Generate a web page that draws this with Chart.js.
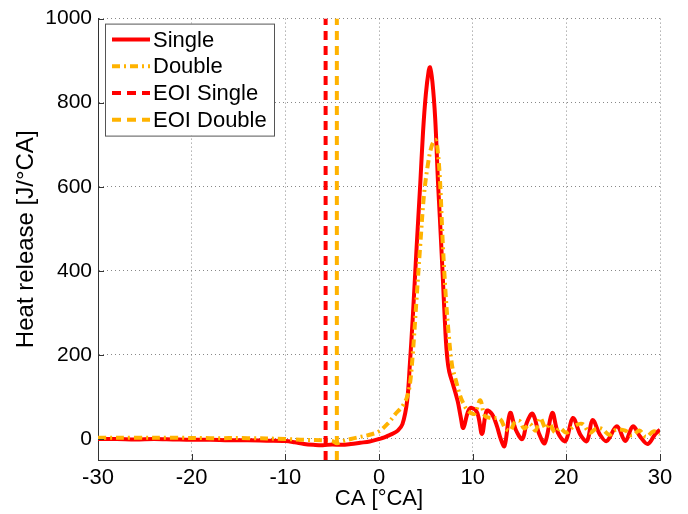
<!DOCTYPE html>
<html>
<head>
<meta charset="utf-8">
<script src="https://cdn.jsdelivr.net/npm/chart.js@4.4.1/dist/chart.umd.min.js"></script>
<style>
  html, body { margin: 0; padding: 0; background: #fff; }
  #wrap { width: 688px; height: 514px; }
</style>
</head>
<body>
<div id="wrap"><canvas id="heatChart" width="688" height="514"></canvas></div>
<script>
// data
const singleCA = [-30, -28, -26, -24, -22, -20, -18, -16, -14, -12, -10, -9, -8, -7, -6, -5, -4, -3, -2, -1,
  0, 0.5, 1, 1.5, 2, 2.5, 3, 3.3, 3.6, 4.0, 4.4, 4.7, 5.0, 5.3, 5.45, 5.7, 6.0, 6.3, 6.5, 6.8, 7.1, 7.3, 7.5,
  7.9, 8.4, 8.7, 9.0, 9.5, 9.9, 10.5, 11.0, 11.5, 12.1, 12.6, 13.0, 13.4, 14.0, 14.6, 15.3, 15.8, 16.4, 17.1,
  17.7, 18.5, 19.1, 19.9, 20.7, 21.5, 22.2, 22.8, 23.6, 24.3, 25.4, 26.3, 27.1, 27.9, 28.7, 29.5, 30];
const singleHR = [0, 0, -1, 0, -1, -2, -2, -3, -3, -4, -5, -8, -12, -14, -15, -13, -14, -12, -9, -6,
  0, 3, 8, 13, 20, 35, 90, 180, 287, 450, 605, 730, 820, 875, 884, 850, 762, 610, 525, 390, 250, 190, 160,
  130, 90, 55, 26, 65, 74, 62, 12, 67, 58, 30, 0, -17, 62, 22, 0, 40, 60, 12,
  -10, 62, 15, -5, 50, 10, -5, 45, 10, -5, 30, -5, 30, 5, -12, 12, 22];

const doubleCA = [-30, -26, -22, -18, -14, -10, -8, -6, -5, -4.5, -4, -3, -2, -1, 0, 1, 1.7, 2.5, 3.0, 3.3,
  3.6, 4.0, 4.4, 4.8, 5.2, 5.6, 6.0, 6.2, 6.5, 6.8, 7.1, 7.4, 7.8, 8.2, 8.6, 9.0, 9.5, 10.2, 10.8, 11.3,
  12.0, 12.9, 13.5, 14.0, 14.5, 15.0, 15.5, 16.1, 16.7, 17.2, 17.8, 18.2, 18.8, 19.3, 20.0, 20.8, 21.7,
  22.5, 23.2, 23.8, 24.6, 25.3, 26.3, 27.0, 27.8, 28.5, 29.3, 30];
const doubleHR = [3, 3, 3, 2, 2, 0, -2, -3, -5, -10, -6, 0, 5, 10, 18, 38, 58, 78, 100, 130,
  200, 330, 460, 580, 650, 695, 712, 700, 620, 470, 350, 260, 175, 140, 107, 85, 67, 60, 92, 55,
  50, 48, 25, 20, 40, 43, 25, 36, 20, 50, 25, 36, 15, 26, 15, 30, 36,
  15, 25, 24, 10, 22, 20, 8, 20, 5, 18, 12];

const eoiSingle = -5.7;
const eoiDouble = -4.5;

const xTicks = [-30, -20, -10, 0, 10, 20, 30];
const yTicks = [0, 200, 400, 600, 800, 1000];
const yMin = -50;
const yMax = 1000;

const RED = "#ff0000";
const ORANGE = "#ffb300";
const FONT = "'Liberation Sans', Arial, sans-serif";

function toPoints(xs, ys) {
  return xs.map((x, i) => ({ x: x, y: ys[i] }));
}

// legend box drawn inside the plot, like the original
const legendItems = [
  { label: "Single", color: RED, dash: [] },
  { label: "Double", color: ORANGE, dash: [8, 4, 2, 4] },
  { label: "EOI Single", color: RED, dash: [9, 6] },
  { label: "EOI Double", color: ORANGE, dash: [9, 6] }
];

const insideLegend = {
  id: "insideLegend",
  afterDraw(chart) {
    const ctx = chart.ctx;
    const area = chart.chartArea;
    const bx = area.left + 7, by = area.top + 5, bw = 169, bh = 112;
    ctx.save();
    ctx.fillStyle = "#fff";
    ctx.fillRect(bx, by, bw, bh);
    ctx.strokeStyle = "#555";
    ctx.lineWidth = 1;
    ctx.strokeRect(bx + 0.5, by + 0.5, bw, bh);
    ctx.font = "22px " + FONT;
    ctx.textBaseline = "middle";
    legendItems.forEach((item, i) => {
      const cy = by + 16 + i * 26.7;
      ctx.beginPath();
      ctx.setLineDash(item.dash);
      ctx.strokeStyle = item.color;
      ctx.lineWidth = 4;
      ctx.moveTo(bx + 7, cy);
      ctx.lineTo(bx + 45, cy);
      ctx.stroke();
      ctx.setLineDash([]);
      ctx.fillStyle = "#000";
      ctx.fillText(item.label, bx + 48, cy + 1);
    });
    ctx.restore();
  }
};

// small inward tick marks on the left and bottom axes
const innerTicks = {
  id: "innerTicks",
  afterDatasetsDraw(chart) {
    const ctx = chart.ctx;
    const xs = chart.scales.x, ys = chart.scales.y;
    const area = chart.chartArea;
    ctx.save();
    ctx.strokeStyle = "#333";
    ctx.lineWidth = 1;
    ctx.beginPath();
    xTicks.forEach(v => {
      const px = Math.round(xs.getPixelForValue(v)) + 0.5;
      ctx.moveTo(px, area.bottom);
      ctx.lineTo(px, area.bottom - 6);
    });
    yTicks.forEach(v => {
      const py = Math.round(ys.getPixelForValue(v)) + 0.5;
      ctx.moveTo(area.left, py);
      ctx.lineTo(area.left + 6, py);
    });
    ctx.stroke();
    ctx.restore();
  }
};

let heatChart;

function setupChart() {
  const ctx = document.getElementById("heatChart").getContext("2d");
  heatChart = new Chart(ctx, {
    type: "line",
    data: {
      datasets: [
        {
          label: "Single",
          data: toPoints(singleCA, singleHR),
          borderColor: RED,
          borderWidth: 4,
          tension: 0.35,
          pointRadius: 0,
          order: 4
        },
        {
          label: "Double",
          data: toPoints(doubleCA, doubleHR),
          borderColor: ORANGE,
          borderWidth: 4,
          borderDash: [8, 4, 2, 4],
          tension: 0.35,
          pointRadius: 0,
          order: 3
        },
        {
          label: "EOI Single",
          data: toPoints([eoiSingle, eoiSingle], [yMin, yMax]),
          borderColor: RED,
          borderWidth: 4,
          borderDash: [9, 6],
          pointRadius: 0,
          order: 2
        },
        {
          label: "EOI Double",
          data: toPoints([eoiDouble, eoiDouble], [yMin, yMax]),
          borderColor: ORANGE,
          borderWidth: 4,
          borderDash: [9, 6],
          pointRadius: 0,
          order: 1
        }
      ]
    },
    options: {
      responsive: false,
      animation: false,
      layout: { padding: { left: 12, top: 17, right: 28, bottom: 2 } },
      plugins: {
        legend: { display: false },
        tooltip: { enabled: false }
      },
      scales: {
        x: {
          type: "linear",
          min: -30,
          max: 30,
          afterBuildTicks: s => { s.ticks = xTicks.map(v => ({ value: v })); },
          afterFit: s => { s.height = 52; },
          grid: { color: "#888", drawTicks: false },
          border: { display: true, color: "#333", width: 1, dash: [1, 3] },
          ticks: {
            color: "#000",
            padding: 5,
            callback: v => String(v),
            font: { family: FONT, size: 22 }
          },
          title: {
            display: true,
            text: "CA [°CA]",
            color: "#000",
            padding: 0,
            font: { family: FONT, size: 22 }
          }
        },
        y: {
          type: "linear",
          min: yMin,
          max: yMax,
          afterBuildTicks: s => { s.ticks = yTicks.map(v => ({ value: v })); },
          afterFit: s => { s.width = 86; },
          grid: { color: "#888", drawTicks: false },
          border: { display: true, color: "#333", width: 1, dash: [1, 3] },
          ticks: {
            color: "#000",
            padding: 6,
            callback: v => String(v),
            font: { family: FONT, size: 21 }
          },
          title: {
            display: true,
            text: "Heat release [J/°CA]",
            color: "#000",
            padding: 0,
            font: { family: FONT, size: 24 }
          }
        }
      }
    },
    plugins: [innerTicks, insideLegend]
  });
}

document.addEventListener("DOMContentLoaded", setupChart);
</script>
</body>
</html>
